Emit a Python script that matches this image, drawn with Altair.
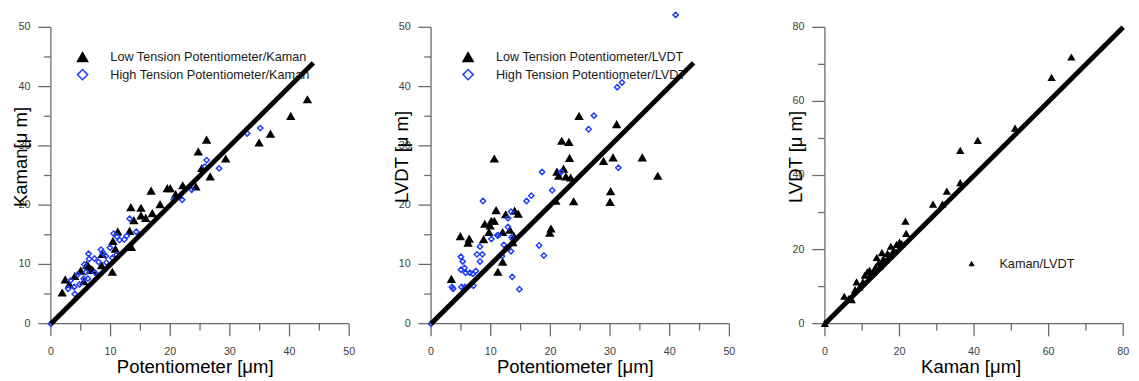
import altair as alt
import pandas as pd

# ---------------- data ----------------
P1_LOW = "Low Tension Potentiometer/Kaman"
P1_HIGH = "High Tension Potentiometer/Kaman"
P2_LOW = "Low Tension Potentiometer/LVDT"
P2_HIGH = "High Tension Potentiometer/LVDT"
P3_LABEL = "Kaman/LVDT"

p1_low_x = [1.9, 2.4, 3.1, 4.0, 5.0, 5.5, 6.0, 6.3, 6.7, 7.0, 8.5, 8.6, 10.3, 10.4, 10.8, 11.2, 13.2, 13.5,
            13.4, 13.9, 15.1, 15.1, 15.9, 16.8, 17.0, 18.3, 19.5, 20.0, 20.9, 22.1, 24.3, 24.7, 25.3,
            26.1, 26.7, 29.3, 34.9, 36.8, 40.2, 43.0]
p1_low_y = [5.2, 7.4, 6.6, 8.0, 8.9, 7.1, 9.9, 9.6, 9.2, 9.0, 9.8, 11.7, 8.7, 13.9, 12.6, 15.5, 15.6, 12.9,
            19.6, 17.4, 19.5, 18.2, 17.8, 22.4, 18.6, 20.1, 22.8, 22.8, 21.8, 23.3, 23.1, 29.0, 26.2,
            31.0, 24.8, 27.8, 30.5, 32.0, 35.0, 37.8]

p1_high_x = [0.0, 2.9, 3.3, 4.0, 3.9, 4.5, 4.8, 5.6, 5.5, 5.9, 6.2, 6.3, 6.4, 7.3, 7.4, 8.0, 8.4, 8.7,
             9.2, 9.3, 9.9, 10.3, 10.5, 11.0, 11.1, 11.5, 12.3, 12.7, 13.2, 14.3, 20.6, 22.0, 23.6,
             25.8, 26.1, 28.2, 32.9, 35.1]
p1_high_y = [0.0, 5.9, 7.3, 5.0, 6.2, 8.3, 6.6, 10.0, 7.6, 8.7, 7.6, 11.8, 10.9, 11.0, 8.6, 10.4, 12.5, 12.0,
             11.4, 10.3, 12.8, 11.1, 15.2, 11.6, 14.7, 14.1, 14.2, 14.8, 17.7, 15.5, 20.9, 20.9, 22.6,
             26.5, 27.6, 26.2, 32.1, 33.0]

p2_low_x = [3.4, 4.9, 6.4, 6.2, 8.8, 9.0, 9.7, 9.9, 10.1, 10.6, 10.6, 10.9, 11.2, 12.0, 12.0, 12.5, 13.2,
            13.7, 14.0, 14.6, 13.9, 19.9, 20.1, 20.9, 21.1, 21.4, 21.9, 22.2, 22.6, 23.1, 23.2, 23.4,
            23.9, 24.8, 28.9, 30.0, 30.1, 30.5, 31.1, 35.4, 38.0]
p2_low_y = [7.5, 14.7, 14.3, 13.6, 14.2, 16.8, 15.4, 16.5, 17.3, 27.8, 17.3, 19.1, 8.7, 10.4, 15.4, 18.4, 15.8,
            13.7, 19.0, 18.5, 14.7, 15.3, 16.0, 20.7, 25.6, 24.9, 30.8, 26.1, 24.8, 30.6, 27.9, 24.6,
            20.6, 35.0, 27.4, 20.5, 22.3, 28.0, 33.6, 28.0, 24.9]

p2_high_x = [0.0, 3.5, 3.7, 5.0, 5.3, 5.0, 5.6, 5.1, 5.7, 5.8, 6.5, 7.0, 7.5, 7.1, 7.7, 8.2, 8.2, 8.6, 8.7,
             10.1, 11.1, 11.3, 12.2, 11.9, 12.9, 12.9, 13.4, 13.4, 13.5, 13.6, 14.8, 16.0, 16.8, 18.1,
             18.6, 18.9, 20.3, 21.8, 26.4, 27.3, 31.2, 32.0, 31.4, 41.0]
p2_high_y = [0.0, 6.2, 5.9, 11.3, 10.5, 9.1, 9.4, 6.2, 6.2, 8.6, 8.6, 8.4, 8.9, 6.4, 11.7, 13.0, 10.5, 11.7, 20.7,
             14.3, 14.9, 14.9, 13.3, 11.4, 16.3, 17.8, 18.9, 12.2, 14.6, 7.9, 5.8, 20.7, 21.6, 13.2,
             25.6, 11.5, 22.5, 25.6, 32.8, 35.1, 39.9, 40.7, 26.3, 52.1]

p3_x = [0.0, 5.2, 6.4, 7.2, 8.1, 8.5, 9.3, 10.2, 10.7, 11.4, 12.0, 12.3, 12.8, 13.1, 13.6, 13.9, 14.5, 14.8,
        15.3, 15.6, 16.1, 16.8, 17.3, 17.7, 18.1, 18.6, 19.2, 20.0, 20.6, 21.6, 21.8, 29.0, 31.5, 32.7,
        36.3, 36.3, 41.0, 51.0, 60.8, 66.1]
p3_y = [0.0, 7.3, 6.7, 6.4, 9.1, 11.2, 9.8, 11.2, 13.0, 13.9, 14.3, 13.2, 13.7, 14.0, 15.2, 17.8, 16.5, 15.5,
        19.1, 17.3, 17.0, 18.9, 18.2, 20.8, 19.1, 19.6, 21.3, 21.9, 21.5, 27.6, 24.3, 32.2, 32.2, 35.7,
        46.7, 38.0, 49.4, 52.7, 66.4, 71.9]

# axis tick values (labelled major ticks and unlabelled minor ticks)
ticks50_major = [0, 10, 20, 30, 40, 50]
ticks50_minor = [5, 15, 25, 35, 45]
ticks80_major = [0, 20, 40, 60, 80]
ticks80_minor = [10, 30, 50, 70]

line12_x = [0, 44]
line12_y = [0, 44]
line3_x = [0, 80]
line3_y = [0, 80]

BLUE = "#1f3dff"
FONT = "Liberation Sans"
AXIS_GREY = "#6a6a6a"
LABEL_GREY = "#404040"
PLOT_H = 304


def series_df(xs, ys, name):
    return pd.DataFrame({"x": xs, "y": ys, "s": [name] * len(xs)})


def panel(dfs, sizes, series, shapes, fills, strokes, maxv, major, minor, xtitle, ytitle,
          legend, line_x, line_y, xtitle_dx):
    xs = alt.Scale(domain=[0, maxv], nice=False, zero=True)
    ys = alt.Scale(domain=[0, maxv], nice=False, zero=True)

    def X(f):
        return alt.X(f, scale=xs, axis=None)

    def Y(f):
        return alt.Y(f, scale=ys, axis=None)

    # axis lines, tick marks, tick labels and axis titles, drawn through the panel's scales
    dom = pd.DataFrame({"x": [0, maxv, 0, 0], "y": [0, 0, 0, maxv], "a": ["x", "x", "y", "y"]})
    deco = [
        alt.Chart(dom).mark_line(color=AXIS_GREY, strokeWidth=1.3).encode(
            x=X("x:Q"), y=Y("y:Q"), detail="a:N"
        )
    ]
    for vals, ln in ((major, 13), (minor, 7)):
        tdf = pd.DataFrame({"v": vals})
        deco.append(
            alt.Chart(tdf).mark_tick(orient="vertical", size=ln, thickness=1.3, yOffset=ln / 2,
                                     color=AXIS_GREY, opacity=1).encode(
                x=X("v:Q"), y=alt.YDatum(0, scale=ys, axis=None)
            )
        )
        deco.append(
            alt.Chart(tdf).mark_tick(orient="horizontal", size=ln, thickness=1.3, xOffset=-ln / 2,
                                     color=AXIS_GREY, opacity=1).encode(
                y=Y("v:Q"), x=alt.XDatum(0, scale=xs, axis=None)
            )
        )
    ldf = pd.DataFrame({"v": major, "lab": [str(v) for v in major]})
    deco.append(
        alt.Chart(ldf).mark_text(baseline="top", align="center", yOffset=23, font=FONT,
                                 fontSize=11, color=LABEL_GREY).encode(
            x=X("v:Q"), y=alt.YDatum(0, scale=ys, axis=None), text="lab:N"
        )
    )
    deco.append(
        alt.Chart(ldf).mark_text(baseline="middle", align="right", xOffset=-21, font=FONT,
                                 fontSize=11, color=LABEL_GREY).encode(
            y=Y("v:Q"), x=alt.XDatum(0, scale=xs, axis=None), text="lab:N"
        )
    )
    deco.append(
        alt.Chart(pd.DataFrame({"t": [xtitle]})).mark_text(
            baseline="alphabetic", align="center", yOffset=51, xOffset=xtitle_dx,
            font=FONT, fontSize=19, color="black").encode(
            x=alt.XDatum(maxv / 2, scale=xs, axis=None), y=alt.YDatum(0, scale=ys, axis=None), text="t:N"
        )
    )
    deco.append(
        alt.Chart(pd.DataFrame({"t": [ytitle]})).mark_text(
            baseline="alphabetic", align="center", angle=270, xOffset=-24, yOffset=-19,
            font=FONT, fontSize=19, color="black").encode(
            x=alt.XDatum(0, scale=xs, axis=None), y=alt.YDatum(maxv / 2, scale=ys, axis=None), text="t:N"
        )
    )

    layers = []
    for d, sz in zip(dfs, sizes):
        layers.append(
            alt.Chart(d).mark_point(size=sz, strokeWidth=1.5, opacity=1).encode(
                x=X("x:Q"),
                y=Y("y:Q"),
                shape=alt.Shape("s:N", scale=alt.Scale(domain=series, range=shapes), legend=legend),
                fill=alt.Fill("s:N", scale=alt.Scale(domain=series, range=fills), legend=legend),
                stroke=alt.Stroke("s:N", scale=alt.Scale(domain=series, range=strokes), legend=legend),
            )
        )
    line = alt.Chart(pd.DataFrame({"x": line_x, "y": line_y})).mark_line(
        color="black", strokeWidth=5
    ).encode(x=X("x:Q"), y=Y("y:Q"))
    return alt.layer(*deco, *layers, line).properties(width=306, height=PLOT_H)


def two_legend(x, y):
    return alt.Legend(
        orient="none", legendX=x, legendY=y,
        labelFont=FONT, labelFontSize=13, labelColor="#1a1a1a", labelLimit=0,
        symbolSize=110, symbolStrokeWidth=1.5, labelOffset=22, rowPadding=1,
    )


c1 = panel([series_df(p1_low_x, p1_low_y, P1_LOW), series_df(p1_high_x, p1_high_y, P1_HIGH)], [50, 30],
           [P1_LOW, P1_HIGH], ["triangle-up", "diamond"], ["black", "transparent"], ["black", BLUE],
           50, ticks50_major, ticks50_minor, "Potentiometer [μm]", "Kaman[μ m]", two_legend(26, 24),
           line12_x, line12_y, -5)
c2 = panel([series_df(p2_low_x, p2_low_y, P2_LOW), series_df(p2_high_x, p2_high_y, P2_HIGH)], [50, 30],
           [P2_LOW, P2_HIGH], ["triangle-up", "diamond"], ["black", "transparent"], ["black", BLUE],
           50, ticks50_major, ticks50_minor, "Potentiometer [μm]", "LVDT [μ m]", two_legend(31.5, 24),
           line12_x, line12_y, -5)
leg3 = alt.Legend(
    orient="none", legendX=144, legendY=236,
    labelFont=FONT, labelFontSize=13, labelColor="#1a1a1a", labelLimit=0,
    symbolSize=25, symbolStrokeWidth=1, labelOffset=22,
)
c3 = panel([series_df(p3_x, p3_y, P3_LABEL)], [35], [P3_LABEL], ["triangle-up"], ["black"], ["black"],
           80, ticks80_major, ticks80_minor, "Kaman [μm]", "LVDT [μ m]", leg3, line3_x, line3_y, -3)

indep = dict(shape="independent", fill="independent", stroke="independent")
inner = alt.hconcat(c1, c2, spacing=38).resolve_scale(**indep)
chart = alt.hconcat(inner, c3, spacing=52).resolve_scale(**indep).properties(
    padding={"left": 5, "top": -4, "right": -2, "bottom": 0},
).configure(background="white").configure_view(stroke=None).configure_legend(title=None)

chart.save("out.html", embed_options={"renderer": "svg", "actions": False})
